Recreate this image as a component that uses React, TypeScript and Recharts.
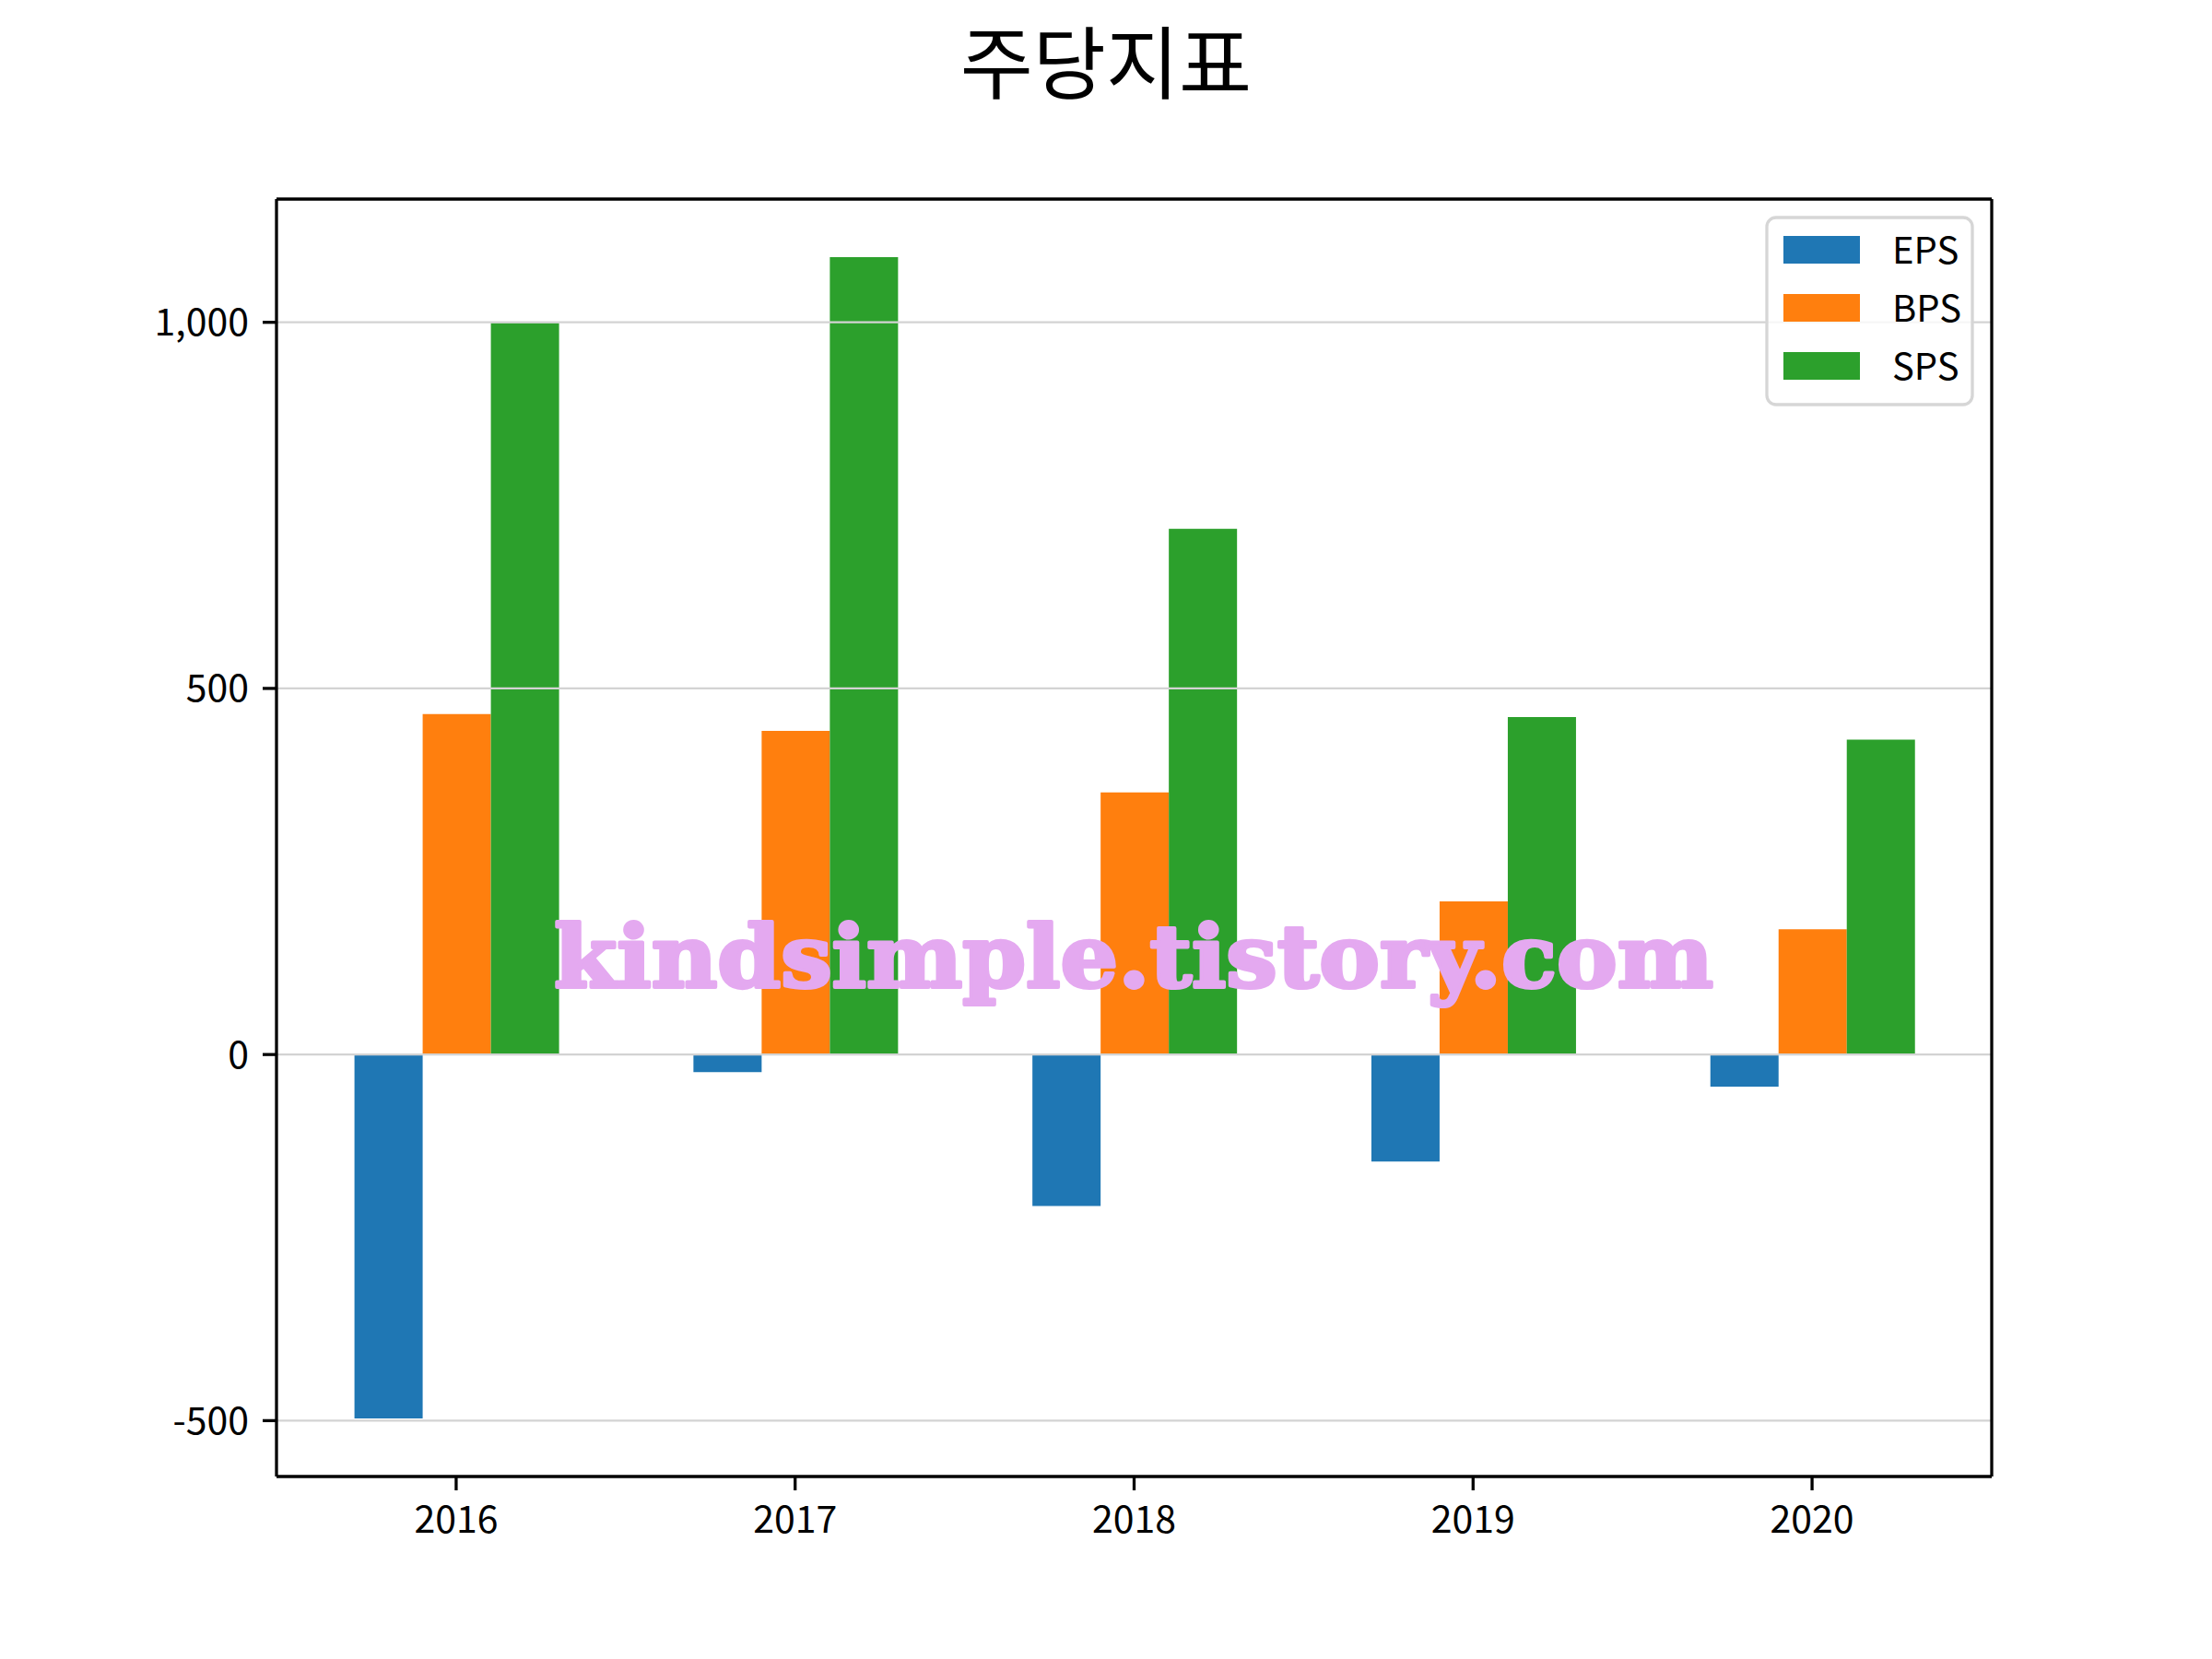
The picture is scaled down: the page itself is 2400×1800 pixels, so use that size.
import React from 'react';
import { BarChart, Bar, XAxis, YAxis, ReferenceLine } from 'recharts';

const years = ['2016', '2017', '2018', '2019', '2020'];
const epsValues = [-497, -24, -207, -146, -44];
const bpsValues = [465, 442, 358, 209, 171];
const spsValues = [999, 1089, 718, 461, 430];
const seriesNames = ['EPS', 'BPS', 'SPS'];
const seriesColors = ['#1f77b4', '#ff7f0e', '#2ca02c'];
const yTicks = [-500, 0, 500, 1000];
const yDomain: [number, number] = [-576.3, 1168.3];
const xDomain: [number, number] = [-0.53, 4.53];
const titleText = '주당지표';
const watermarkText = 'kindsimple.tistory.com';

const seriesValues = [epsValues, bpsValues, spsValues];
const data = years.map((year, i) => {
  const row: Record<string, number | string> = { idx: i, year };
  seriesNames.forEach((name, s) => {
    row[name] = seriesValues[s][i];
  });
  return row;
});
const xTicks = years.map((_, i) => i);

const FONT = '"Noto Sans CJK KR", "Noto Sans", sans-serif';
const axisStroke = { stroke: '#000', strokeWidth: 3.3 };

export default function App() {
  return (
    <div style={{ position: 'absolute', left: 0, top: 0, width: 2400, height: 1800, background: '#fff' }}>
      <BarChart
        width={2400}
        height={1800}
        data={data}
        margin={{ top: 216, right: 239, bottom: 0, left: 0 }}
        barCategoryGap="20%"
        barGap={0}
      >
        <XAxis
          dataKey="idx"
          type="number"
          domain={xDomain}
          ticks={xTicks}
          tickFormatter={(v: number) => years[v]}
          height={198}
          axisLine={axisStroke}
          tickLine={axisStroke}
          tickSize={15}
          tickMargin={17}
          tick={{ fontSize: 41, fill: '#000', fontFamily: FONT }}
          allowDataOverflow
        />
        <YAxis
          width={300}
          domain={yDomain}
          ticks={yTicks}
          tickFormatter={(v: number) => v.toLocaleString('en-US')}
          axisLine={axisStroke}
          tickLine={axisStroke}
          tickSize={15}
          tickMargin={15}
          tick={{ fontSize: 41, fill: '#000', fontFamily: FONT }}
          allowDataOverflow
          interval={0}
        />
        {seriesNames.map((name, s) => (
          <Bar key={name} dataKey={name} fill={seriesColors[s]} isAnimationActive={false} />
        ))}
        {yTicks.map((t) => (
          <ReferenceLine key={t} y={t} stroke="#d3d3d3" strokeWidth={2.2} />
        ))}
        <ReferenceLine y={yDomain[1]} stroke="#000" strokeWidth={3.3} />
        <ReferenceLine x={xDomain[1]} stroke="#000" strokeWidth={3.3} />
      </BarChart>
      <svg
        width={2400}
        height={1800}
        style={{ position: 'absolute', left: 0, top: 0, pointerEvents: 'none' }}
      >
        <text
          x={1200}
          y={101}
          textAnchor="middle"
          fontSize={86}
          fontFamily={FONT}
          fill="#000"
        >
          {titleText}
        </text>
        <text
          x={601}
          y={1071}
          fontSize={94}
          fontFamily='"DejaVu Serif", serif'
          fontWeight="bold"
          fill="#E4A9F0"
          stroke="#E4A9F0"
          strokeWidth={4}
          strokeLinejoin="round"
          textLength={1258}
          lengthAdjust="spacingAndGlyphs"
        >
          {watermarkText}
        </text>
        <rect
          x={1917}
          y={236}
          width={223}
          height={203}
          rx={10}
          ry={10}
          fill="#fff"
          fillOpacity={0.8}
          stroke="#d6d6d6"
          strokeWidth={3.3}
        />
        {seriesNames.map((name, s) => (
          <g key={name}>
            <rect x={1935} y={256 + 63 * s} width={83} height={30} fill={seriesColors[s]} />
            <text x={2053} y={286 + 63 * s} fontSize={40} fontFamily={FONT} fill="#000">
              {name}
            </text>
          </g>
        ))}
      </svg>
    </div>
  );
}
